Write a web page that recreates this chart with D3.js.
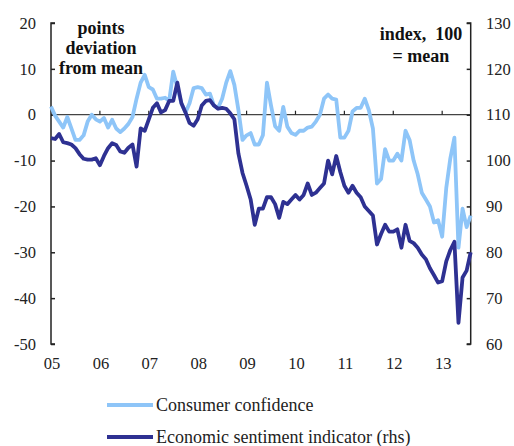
<!DOCTYPE html>
<html>
<head>
<meta charset="utf-8">
<script src="https://cdn.jsdelivr.net/npm/d3@7"></script>
<style>
  body { margin: 0; background: #fff; }
</style>
</head>
<body>
<script>
// monthly data, Jan 2005 onwards
const yearLabels = ["05", "06", "07", "08", "09", "10", "11", "12", "13"];
const leftTicks = [-50, -40, -30, -20, -10, 0, 10, 20];
const rightTicks = [60, 70, 80, 90, 100, 110, 120, 130];

// consumer confidence, points deviation from mean (lhs)
const consumer = [
  1.8, -0.2, -1.5, -2.8, -0.5, -3, -5.5, -5.5, -4.5, -1.5, 0, -1,
  -1.5, -0.7, -2.8, -1.1, -3, -3.8, -3, -2, -0.5, 3.5, 7, 8.7,
  6, 5.5, 3.5, 3.5, 3.7, 3, 9.4, 6, 2.5, 0.5, 2.5, 5.8,
  6, 5.8, 4.4, 4.6, 2, 1.5, 3.5, 7, 9.5, 6.5, 1, -5.5,
  -4.5, -4, -6.5, -6.5, -4.5, 7, 2, -2.5, -3.5, 1.7, -2.6, -4,
  -4.4, -3.5, -3.5, -2.8, -2.6, -1.5, 0, 3.5, 4.4, 3.5, 3.3, -5,
  -5, -3.5, 0.7, 1.5, 1.5, 3.5, 1, -3, -15, -14, -7.5, -10,
  -10, -8.5, -10, -3.5, -5.5, -10, -13, -17, -18.5, -20, -23.5, -23,
  -26.6, -16, -9.5, -5, -29, -20.5, -24.5, -22
];

// economic sentiment indicator, index 100 = mean (rhs)
const esi = [
  104.9, 104.7, 105.8, 104, 103.8, 103.5, 102.7, 101.4, 100.4, 100.2, 100.2, 100.5,
  99, 101, 102.7, 103.8, 103.4, 102, 101.7, 102.8, 103.5, 98.7, 107, 106.5,
  109, 111.5, 112.5, 110.5, 111, 113, 113, 117, 112.5, 110.5, 108.2, 107.6,
  109, 112, 113, 113.2, 112, 111.3, 111.5, 111.3, 110.3, 109, 101.5, 97.3,
  94.5, 91.5, 86, 89.5, 89.5, 92, 92, 90.5, 87.5, 91, 90.5, 91.5,
  92.5, 91.5, 92.5, 95, 92.5, 93, 94, 95, 100, 97, 101, 97.5,
  94.5, 93, 94.5, 93, 92, 90, 89, 88, 81.7, 84, 86, 84.5,
  84.5, 85, 81, 86, 82.5, 82, 81, 79.5, 78.5, 76.5, 75, 73.4,
  73.7, 78, 80.5, 82.3, 64.6, 74.5, 76, 80
];

const W = 514, H = 446;
const plotLeft = 51, plotRight = 470.7, plotTop = 23, plotBottom = 344;

const svg = d3.select("body").append("svg")
  .attr("width", W)
  .attr("height", H);

const x = d3.scaleLinear().domain([0, 103]).range([plotLeft, plotRight]);
const yL = d3.scaleLinear().domain([-50, 20]).range([plotBottom, plotTop]);
const yR = d3.scaleLinear().domain([60, 130]).range([plotBottom, plotTop]);

const axisColor = "#222";

// zero line with year ticks pointing up
svg.append("line")
  .attr("x1", plotLeft).attr("x2", plotRight)
  .attr("y1", yL(0)).attr("y2", yL(0))
  .attr("stroke", "#444").attr("stroke-width", 1.3);

svg.append("g")
  .selectAll("line")
  .data(yearLabels.slice(1))
  .join("line")
  .attr("x1", (d, i) => x((i + 1) * 12))
  .attr("x2", (d, i) => x((i + 1) * 12))
  .attr("y1", yL(0))
  .attr("y2", yL(0) - 4)
  .attr("stroke", axisColor).attr("stroke-width", 1.2);

// left axis (ticks inside)
const axL = svg.append("g")
  .attr("transform", `translate(${plotLeft},0)`)
  .call(d3.axisRight(yL).tickValues(leftTicks).tickSize(4).tickFormat(""));
axL.select(".domain").attr("stroke", axisColor).attr("stroke-width", 1.5)
  .attr("d", `M4,${plotTop}H0V${plotBottom}H4`);
axL.selectAll(".tick line").attr("stroke", axisColor).attr("stroke-width", 1.5);

const textStyle = sel => sel
  .style("font-family", "\"Liberation Serif\"")
  .attr("fill", "#222");

svg.append("g")
  .selectAll("text")
  .data(leftTicks)
  .join("text")
  .call(textStyle)
  .attr("x", 36)
  .attr("y", d => yL(d))
  .attr("dy", "0.35em")
  .attr("text-anchor", "end")
  .attr("font-size", 16.5)
  .text(d => d);

// right axis (ticks inside)
const axR = svg.append("g")
  .attr("transform", `translate(${plotRight},0)`)
  .call(d3.axisLeft(yR).tickValues(rightTicks).tickSize(4).tickFormat(""));
axR.select(".domain").attr("stroke", axisColor).attr("stroke-width", 1.5)
  .attr("d", `M-4,${plotTop}H0V${plotBottom}H-4`);
axR.selectAll(".tick line").attr("stroke", axisColor).attr("stroke-width", 1.5);

svg.append("g")
  .selectAll("text")
  .data(rightTicks)
  .join("text")
  .call(textStyle)
  .attr("x", 486)
  .attr("y", d => yR(d))
  .attr("dy", "0.35em")
  .attr("text-anchor", "start")
  .attr("font-size", 16.5)
  .text(d => d);

// year labels below the plot
svg.append("g")
  .selectAll("text")
  .data(yearLabels)
  .join("text")
  .call(textStyle)
  .attr("x", (d, i) => x(i * 12) + 1)
  .attr("y", 369)
  .attr("text-anchor", "middle")
  .attr("font-size", 16.5)
  .text(d => d);

// series
const lineL = d3.line().x((d, i) => x(i)).y(d => yL(d));
const lineR = d3.line().x((d, i) => x(i)).y(d => yR(d));

svg.append("path")
  .datum(consumer)
  .attr("d", lineL)
  .attr("fill", "none")
  .attr("stroke", "#8ec5f8")
  .attr("stroke-width", 3.8)
  .attr("stroke-linejoin", "round");

svg.append("path")
  .datum(esi)
  .attr("d", lineR)
  .attr("fill", "none")
  .attr("stroke", "#2e3192")
  .attr("stroke-width", 3.8)
  .attr("stroke-linejoin", "round");

// axis unit notes
const noteL = ["points", "deviation", "from mean"];
svg.append("g")
  .selectAll("text")
  .data(noteL)
  .join("text")
  .call(textStyle)
  .attr("fill", "#111")
  .attr("x", 101)
  .attr("y", (d, i) => 34 + i * 20)
  .attr("text-anchor", "middle")
  .attr("font-size", 18)
  .attr("font-weight", "bold")
  .text(d => d);

const noteR = ["index,\u00a0 100", "= mean"];
svg.append("g")
  .selectAll("text")
  .data(noteR)
  .join("text")
  .call(textStyle)
  .attr("fill", "#111")
  .attr("x", 421)
  .attr("y", (d, i) => 40 + i * 22)
  .attr("text-anchor", "middle")
  .attr("font-size", 18)
  .attr("font-weight", "bold")
  .text(d => d);

// legend
const legend = [
  { name: "Consumer confidence", color: "#8ec5f8" },
  { name: "Economic sentiment indicator (rhs)", color: "#2e3192" }
];
const lg = svg.append("g")
  .selectAll("g")
  .data(legend)
  .join("g")
  .attr("transform", (d, i) => `translate(107,${405 + i * 32})`);
lg.append("line")
  .attr("x1", 0).attr("x2", 46)
  .attr("stroke", d => d.color)
  .attr("stroke-width", 3.8);
lg.append("text")
  .call(textStyle)
  .attr("x", 49)
  .attr("y", 6)
  .attr("font-size", 18)
  .text(d => d.name);
</script>
</body>
</html>
